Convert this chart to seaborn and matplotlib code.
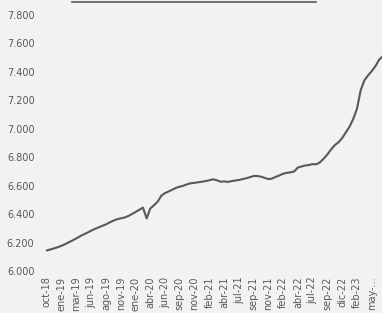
import matplotlib
matplotlib.use("Agg")
import matplotlib.pyplot as plt
import seaborn as sns
import pandas as pd
from matplotlib.lines import Line2D

# valores (4 puntos por intervalo de etiqueta)
valores = [
    6.145, 6.152, 6.160, 6.168, 6.178, 6.190, 6.203, 6.216, 6.230, 6.245,
    6.258, 6.270, 6.284, 6.296, 6.307, 6.318, 6.328, 6.342, 6.354, 6.364,
    6.370, 6.376, 6.386, 6.400, 6.415, 6.430, 6.446, 6.370, 6.440, 6.462,
    6.488, 6.530, 6.548, 6.560, 6.572, 6.585, 6.593, 6.600, 6.610, 6.617,
    6.620, 6.624, 6.628, 6.632, 6.638, 6.645, 6.638, 6.628, 6.630, 6.626,
    6.632, 6.636, 6.640, 6.646, 6.652, 6.660, 6.668, 6.668, 6.663, 6.655,
    6.646, 6.650, 6.662, 6.672, 6.684, 6.690, 6.694, 6.700, 6.728, 6.735,
    6.742, 6.745, 6.752, 6.750, 6.765, 6.790, 6.820, 6.855, 6.885, 6.905,
    6.935, 6.975, 7.015, 7.070, 7.140, 7.270, 7.340, 7.375, 7.405, 7.440,
    7.485, 7.510,
]

etiquetas = [
    "oct-18", "ene-19", "mar-19", "jun-19", "ago-19", "nov-19", "ene-20",
    "abr-20", "jun-20", "sep-20", "nov-20", "feb-21", "abr-21", "jul-21",
    "sep-21", "nov-21", "feb-22", "abr-22", "jul-22", "sep-22", "dic-22",
    "feb-23", "may-...",
]
paso = 4

y_ticks = [6.0, 6.2, 6.4, 6.6, 6.8, 7.0, 7.2, 7.4, 7.6, 7.8]

df = pd.DataFrame({"i": range(len(valores)), "valor": valores})

gris = "#595959"
fondo = "#f2f2f2"

fig = plt.figure(figsize=(3.82, 3.13), dpi=100, facecolor=fondo)
ax = fig.add_axes([40 / 382, 42 / 313, 342 / 382, 256 / 313])
ax.set_facecolor(fondo)

sns.lineplot(data=df, x="i", y="valor", ax=ax, color=gris, linewidth=1.5)

ax.set_xlim(-7 / 3.69, 335 / 3.69)
ax.set_ylim(6.0, 7.8)
ax.set_yticks(y_ticks)
ax.set_yticklabels([f"{v:.3f}" for v in y_ticks], fontsize=7, color=gris)
ax.set_xticks([k * paso for k in range(len(etiquetas))])
ax.set_xticklabels(etiquetas, rotation=90, fontsize=7, color=gris)
ax.tick_params(length=0, pad=4)
ax.set_xlabel("")
ax.set_ylabel("")
for s in ax.spines.values():
    s.set_visible(False)

# subrayado del titulo (recortado en la imagen original)
fig.add_artist(Line2D([72 / 382, 316 / 382], [311.5 / 313, 311.5 / 313],
                      transform=fig.transFigure, color=gris, linewidth=1.2))

fig.savefig("out.png", dpi=100, facecolor=fondo)
